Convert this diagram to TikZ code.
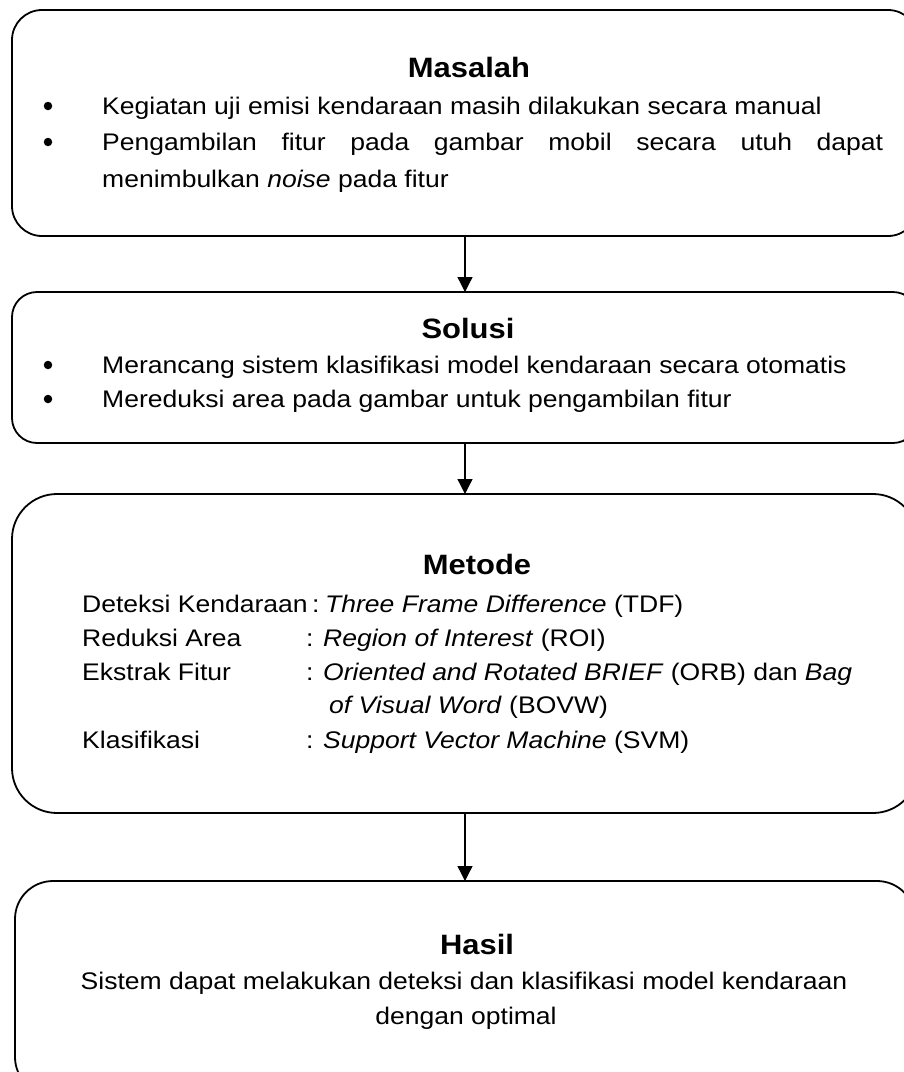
\documentclass[tikz,border=0pt]{standalone}
\usepackage{fontspec}
\setmainfont{Liberation Sans}[FakeStretch=1.105]
\usetikzlibrary{arrows.meta}
\tikzset{
  box/.style={draw, line width=1.8pt, rounded corners=#1, inner sep=0pt, outer sep=0pt},
  txt/.style={anchor=base west, inner sep=0pt, font=\fontsize{24}{35}\selectfont},
  ctxt/.style={anchor=base, inner sep=0pt, font=\fontsize{24}{35}\selectfont},
  title/.style={anchor=base, inner sep=0pt, font=\fontsize{28}{32}\selectfont\bfseries},
  bul/.style={circle, fill=black, minimum size=8.5pt, inner sep=0pt},
  arr/.style={line width=1.3pt, -{Triangle[width=15pt,length=15pt]}}
}
\begin{document}
\begin{tikzpicture}[x=1pt,y=-1pt]
\useasboundingbox (0,0) rectangle (904,1072);
\clip (0,0) rectangle (904,1072);
% boxes
\node[box=30pt, minimum width=906pt, minimum height=226pt] (b1) at (465,123) {};
\node[box=25pt, minimum width=906pt, minimum height=151pt] (b2) at (465,367.5) {};
\node[box=45pt, minimum width=906pt, minimum height=319pt] (b3) at (465,653.5) {};
\node[box=38pt, minimum width=900pt, minimum height=214pt] (b4) at (465,988) {};
% arrows
\draw[arr] (b1.south) -- (b2.north);
\draw[arr] (b2.south) -- (b3.north);
\draw[arr] (b3.south) -- (b4.north);
% Masalah
\node[title] (t1) at (469,77) {Masalah};
\node[bul] (mb1) at (48,106) {};
\node[bul] (mb2) at (48,142) {};
\node[txt] (m1) at (102,114) {Kegiatan uji emisi kendaraan masih dilakukan secara manual};
\node[txt] (m2) at (102,150) {\makebox[781pt][s]{Pengambilan fitur pada gambar mobil secara utuh dapat}};
\node[txt] (m3) at (102,187) {menimbulkan \textit{noise} pada fitur};
% Solusi
\node[title] (t2) at (468,338) {Solusi};
\node[bul] (sb1) at (48,365) {};
\node[bul] (sb2) at (48,399) {};
\node[txt] (s1) at (102,373) {Merancang sistem klasifikasi model kendaraan secara otomatis};
\node[txt] (s2) at (102,407) {Mereduksi area pada gambar untuk pengambilan fitur};
% Metode
\node[title] (t3) at (477,574) {Metode};
\node[txt] (k1) at (82,612) {Deteksi Kendaraan};
\node[txt] (c1) at (312,612) {:};
\node[txt] (v1) at (325,612) {\textit{Three Frame Difference} (TDF)};
\node[txt] (k2) at (82,646) {Reduksi Area};
\node[txt] (c2) at (306,646) {:};
\node[txt] (v2) at (323,646) {\textit{Region of Interest} (ROI)};
\node[txt] (k3) at (82,680) {Ekstrak Fitur};
\node[txt] (c3) at (306,680) {:};
\node[txt] (v3) at (323,680) {\textit{Oriented and Rotated BRIEF} (ORB) dan \textit{Bag}};
\node[txt] (v3b) at (329,713) {\textit{of Visual Word} (BOVW)};
\node[txt] (k4) at (82,748) {Klasifikasi};
\node[txt] (c4) at (306,748) {:};
\node[txt] (v4) at (323,748) {\textit{Support Vector Machine} (SVM)};
% Hasil
\node[title] (t4) at (477,954) {Hasil};
\node[ctxt] (h1) at (464,989) {Sistem dapat melakukan deteksi dan klasifikasi model kendaraan};
\node[ctxt] (h2) at (466,1024) {dengan optimal};
\end{tikzpicture}
\end{document}
